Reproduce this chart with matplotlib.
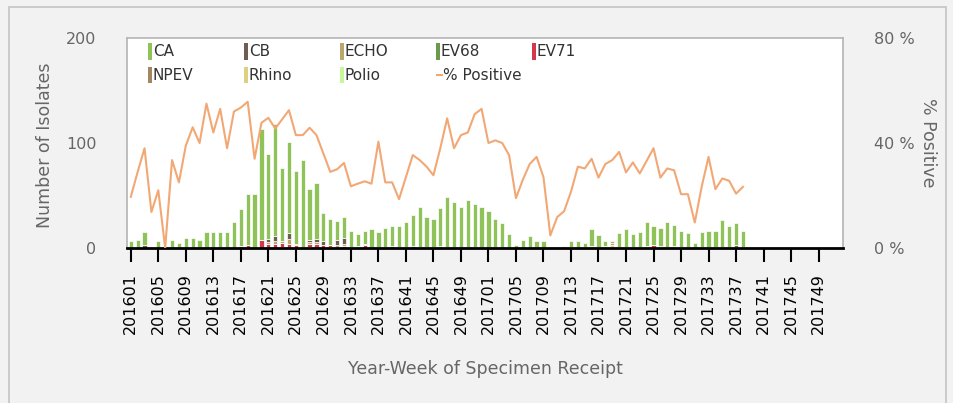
import numpy as np
import matplotlib
matplotlib.use('Agg')
import matplotlib.pyplot as plt
from matplotlib.patches import Rectangle
from matplotlib.lines import Line2D

plt.rcParams['font.family'] = ['DejaVu Sans']

# ─────────────────────────────────────────
# DATOS (semana 201601 .. 201738 con datos, resto vacío)
# ─────────────────────────────────────────
weeks = [f"2016{w:02d}" for w in range(1, 53)] + [f"2017{w:02d}" for w in range(1, 53)]

ca = [7, 8, 12, 0, 7, 0, 8, 5, 10, 10,
      8, 15, 15, 15, 15, 25, 35, 48, 51, 105,
      81, 107, 69, 87, 69, 83, 48, 53, 26, 25,
      18, 20, 15, 11, 12, 18, 14, 18, 19, 20,
      24, 29, 38, 29, 27, 36, 48, 43, 39, 45,
      41, 39, 35, 27, 24, 13, 3, 8, 11, 7,
      7, 0, 0, 0, 6, 7, 4, 16, 11, 5,
      2, 13, 17, 12, 14, 23, 18, 17, 24, 20,
      15, 13, 5, 14, 15, 15, 26, 20, 21, 15]
cb = [0, 0, 3, 0, 0, 0, 0, 0, 0, 0,
      0, 0, 0, 0, 0, 0, 0, 0, 0, 0,
      3, 4, 0, 5, 0, 0, 2, 3, 4, 0,
      5, 6, 0, 0, 0, 0, 1, 0, 2, 1,
      0, 2, 0, 0, 1, 0, 0, 0, 0, 0,
      1, 0, 0, 1, 0, 0, 0, 0, 0, 0,
      0, 0, 0, 1, 0, 0, 0, 0, 0, 0,
      0, 0, 0, 0, 0, 0, 0, 1, 0, 0,
      0, 0, 0, 0, 0, 1, 0, 0, 2, 0]
echo = [0, 0, 0, 0, 0, 0, 0, 0, 0, 0,
        0, 0, 0, 0, 0, 0, 0, 0, 0, 0,
        2, 3, 2, 5, 1, 0, 2, 2, 0, 0,
        3, 2, 1, 0, 1, 0, 0, 0, 0, 0,
        1, 0, 0, 0, 0, 2, 1, 0, 0, 1,
        0, 0, 0, 0, 0, 0, 0, 0, 0, 0,
        0, 0, 0, 0, 0, 0, 0, 0, 0, 0,
        2, 0, 0, 0, 1, 1, 0, 0, 1, 1,
        0, 0, 0, 0, 0, 0, 0, 1, 1, 0]
ev68 = [0] * 90
ev71 = [0, 0, 0, 0, 0, 0, 0, 0, 0, 0,
        0, 0, 0, 0, 0, 0, 2, 3, 0, 8,
        4, 4, 4, 4, 3, 0, 3, 4, 3, 2,
        0, 2, 0, 0, 3, 0, 0, 0, 0, 0,
        0, 0, 0, 0, 0, 0, 0, 0, 0, 0,
        0, 0, 0, 0, 0, 0, 0, 0, 0, 0,
        0, 0, 0, 0, 0, 0, 0, 0, 0, 0,
        0, 0, 0, 0, 0, 0, 3, 0, 0, 0,
        0, 0, 0, 0, 0, 0, 0, 0, 0, 0]
npev = [0, 0, 0, 0, 0, 0, 0, 0, 0, 0,
        0, 0, 0, 0, 0, 0, 0, 0, 0, 0,
        0, 0, 1, 0, 0, 1, 0, 0, 0, 0,
        0, 0, 0, 1, 0, 0, 0, 1, 0, 0,
        0, 0, 1, 1, 0, 0, 0, 1, 0, 0,
        0, 0, 0, 0, 0, 0, 0, 0, 0, 0,
        0, 0, 1, 0, 1, 0, 0, 0, 1, 0,
        0, 0, 0, 1, 0, 0, 0, 0, 0, 0,
        1, 0, 0, 0, 1, 0, 0, 0, 0, 0]
rhino = [0, 0, 0, 0, 0, 0, 0, 0, 0, 0,
         0, 0, 0, 0, 0, 0, 0, 0, 0, 0,
         0, 0, 0, 0, 0, 0, 1, 0, 0, 1,
         0, 0, 0, 1, 0, 0, 0, 0, 0, 0,
         0, 0, 0, 0, 0, 0, 0, 0, 0, 0,
         0, 0, 0, 0, 0, 0, 0, 0, 0, 0,
         0, 0, 1, 1, 0, 0, 1, 2, 0, 2,
         3, 1, 1, 0, 0, 1, 0, 1, 0, 1,
         0, 1, 0, 1, 0, 0, 1, 0, 0, 1]
polio = [0] * 90

pct_positive = [19.5, 29, 38, 13.7, 22, 0, 33.5, 25, 39, 46,
                40, 55, 44, 53, 38, 52, 53.5, 55.7, 34, 47.7,
                49.6, 45.5, 49, 52.5, 43, 43, 45.8, 43, 36, 29,
                30, 32.4, 23.5, 24.5, 25.4, 24.5, 40.5, 25, 25, 18.6,
                27, 35.4, 33.5, 31, 27.7, 38, 49.4, 38, 43, 44,
                51, 53, 40, 41, 40, 35.4, 19, 26, 32, 34.7,
                27, 4.8, 11.8, 14, 21.4, 31, 30.3, 34, 26.8, 32,
                33.5, 36.6, 28.8, 32.6, 28.4, 33.2, 38, 26.8, 30.3, 29.6,
                20.5, 20.5, 9.7, 23.3, 34.7, 22.4, 26.5, 25.6, 20.7, 23.3]

# ─────────────────────────────────────────
# ESTILO
# ─────────────────────────────────────────
colores = {'CA': '#90c25a', 'CB': '#6e5d53', 'ECHO': '#b9a86b', 'EV68': '#6b9a4d',
           'EV71': '#d2394c', 'NPEV': '#a3855f', 'Rhino': '#ddd081', 'Polio': '#c5f79b'}
color_linea = '#f2a875'
gris_txt = '#666666'

series = {'CA': ca, 'CB': cb, 'ECHO': echo, 'EV68': ev68, 'EV71': ev71,
          'NPEV': npev, 'Rhino': rhino, 'Polio': polio}
orden_apilado = ['Polio', 'Rhino', 'NPEV', 'EV71', 'EV68', 'ECHO', 'CB', 'CA']

n = len(weeks)
x = np.arange(n)

fig = plt.figure(figsize=(9.54, 4.03), dpi=100)
fig.patch.set_facecolor('#f2f2f2')
fig.patches.append(Rectangle((9 / 954, -0.1), (946 - 9) / 954, 1.1 - 7 / 403,
                             transform=fig.transFigure, facecolor='none',
                             edgecolor='#c4c4c4', linewidth=1.2))

ax = fig.add_axes([127 / 954, 1 - 248 / 403, (843 - 127) / 954, (248 - 38) / 403])
ax.set_facecolor('white')

base = np.zeros(n)
for nombre in orden_apilado:
    vals = np.zeros(n)
    vals[:len(series[nombre])] = series[nombre]
    ax.bar(x, vals, bottom=base, width=0.62, color=colores[nombre],
           edgecolor='white', linewidth=0.5, zorder=2)
    base += vals

ax.set_xlim(-0.55, 103.55)
ax.set_ylim(0, 200)
ax.set_yticks([0, 100, 200])
ax.set_xticks(x[::4])
ax.set_xticklabels(weeks[::4], rotation=90, fontsize=11.5, color='black')
ax.tick_params(axis='x', direction='out', length=10, width=1.5, color='black', pad=8)
ax.tick_params(axis='y', length=0, pad=22, labelsize=11.5, labelcolor=gris_txt)

for lado in ['left', 'top', 'right']:
    ax.spines[lado].set_color('#b4b4b4')
    ax.spines[lado].set_linewidth(1.2)
ax.spines['bottom'].set_color('black')
ax.spines['bottom'].set_linewidth(2)
ax.spines['bottom'].set_zorder(5)

ax2 = ax.twinx()
ax2.plot(x[:len(pct_positive)], pct_positive, color=color_linea, linewidth=1.5, zorder=3)
ax2.set_ylim(0, 80)
ax2.set_yticks([0, 40, 80])
ax2.set_yticklabels(['0 %', '40 %', '80 %'])
ax2.tick_params(axis='y', length=0, pad=22, labelsize=11.5, labelcolor=gris_txt)
for lado in ['left', 'top', 'right', 'bottom']:
    ax2.spines[lado].set_visible(False)

fig.text(45 / 954, 1 - 145 / 403, 'Number of Isolates', rotation=90, ha='center',
         va='center', fontsize=12.5, color=gris_txt)
fig.text(928 / 954, 1 - 143 / 403, '% Positive', rotation=270, ha='center',
         va='center', fontsize=12.5, color=gris_txt)
fig.text(485 / 954, 1 - 369 / 403, 'Year-Week of Specimen Receipt', ha='center',
         va='center', fontsize=12.5, color=gris_txt)

# ─────────────────────────────────────────
# LEYENDA (manual, 5 columnas x 2 filas)
# ─────────────────────────────────────────
def ax_frac(px, py):
    return (px - 127) / 716, (248 - py) / 210

cols_px = [148, 244, 340, 436, 532]
filas_px = [51.5, 75]
entradas = ['CA', 'CB', 'ECHO', 'EV68', 'EV71', 'NPEV', 'Rhino', 'Polio', '% Positive']
for k, nombre in enumerate(entradas):
    cx = cols_px[k % 5]
    cy = filas_px[k // 5]
    if nombre == '% Positive':
        x0, y0 = ax_frac(cx + 1, cy)
        x1, _ = ax_frac(cx + 6, cy)
        ax.add_line(Line2D([x0, x1], [y0, y0], transform=ax.transAxes,
                           color=color_linea, linewidth=1.5, zorder=6))
        tx, ty = ax_frac(cx + 7, cy)
    else:
        rx, ry = ax_frac(cx, cy + 8)
        ax.add_patch(Rectangle((rx, ry), 4.5 / 716, 16 / 210, transform=ax.transAxes,
                               facecolor=colores[nombre], edgecolor='none', zorder=6))
        tx, ty = ax_frac(cx + 5, cy)
    ax.text(tx, ty, nombre, transform=ax.transAxes, ha='left', va='center',
            fontsize=11, color='#333333', zorder=6)

plt.savefig('out.png', dpi=100, facecolor=fig.get_facecolor())
plt.close()
